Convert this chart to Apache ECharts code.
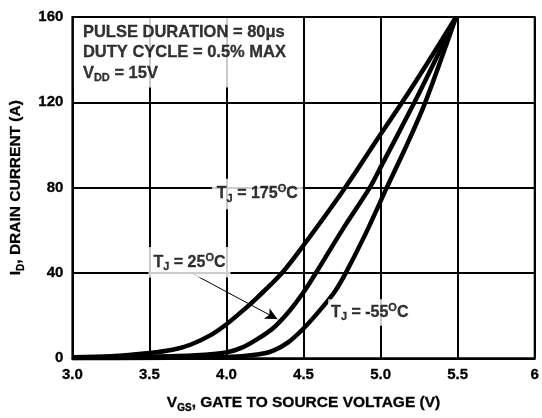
<!DOCTYPE html>
<html>
<head>
<meta charset="utf-8">
<script src="https://cdn.jsdelivr.net/npm/echarts@6/dist/echarts.min.js"></script>
<style>
html,body{margin:0;padding:0;background:#fff;}
#c{width:542px;height:418px;}
</style>
</head>
<body>
<div id="c"></div>
<script>
// Tick labels
const xTickLabels = ['3.0', '3.5', '4.0', '4.5', '5.0', '5.5', '6'];
const yTickLabels = ['0', '40', '80', '120', '160'];

// Gate voltage (V) / drain current (A) pairs
const tj175V = [3.0, 3.25, 3.5, 3.65, 3.77, 3.9, 4.0, 4.1, 4.2, 4.36, 4.5, 4.77, 5.0, 5.14, 5.3, 5.49];
const tj175I = [0.5, 1.0, 2.5, 4.0, 6.5, 11, 16, 22, 28.5, 40, 53, 80, 105, 120, 138, 160];

const tj25V = [3.0, 3.5, 3.8, 4.0, 4.1, 4.2, 4.3, 4.4, 4.5, 4.58, 4.75, 4.93, 5.0, 5.22, 5.35, 5.49];
const tj25I = [0.2, 0.8, 1.5, 2.8, 5.0, 9.0, 14, 21.5, 31, 40, 60, 80, 89.5, 120, 139, 160];

const tjm55V = [3.0, 3.5, 4.0, 4.2, 4.3, 4.4, 4.5, 4.6, 4.7, 4.77, 4.9, 5.04, 5.17, 5.29, 5.49];
const tjm55I = [0.0, 0.2, 0.6, 1.8, 3.5, 7.5, 14, 22, 31, 39.5, 58, 80, 100, 120, 160];

// Annotation anchor points (data coordinates)
const notePos = [3.0, 160];
const label175Pos = [4.2, 77];
const label25Pos = [3.76, 45];
const labelM55Pos = [4.93, 21.5];
const arrowFrom = [3.77, 40.1];
const arrowTo = [4.33, 18.4];

function pairs(xs, ys) { return xs.map((x, i) => [x, ys[i]]); }

const FONT = 'Liberation Sans, Arial, sans-serif';
const FS = 15;
function mkRich(fs) {
  const base = { fontFamily: FONT, fontWeight: 'bold', color: '#000', textBorderColor: '#000', textBorderWidth: 0.3 };
  return {
    b: Object.assign({}, base, { fontSize: fs, lineHeight: 20.5 }),
    sub: Object.assign({}, base, { fontSize: Math.round(fs * 0.66), lineHeight: 12, verticalAlign: 'bottom' }),
    sup: Object.assign({}, base, { fontSize: Math.round(fs * 0.66), lineHeight: 12, verticalAlign: 'top' })
  };
}
const richAxis = mkRich(15.5);
const richNote = mkRich(16.5);
const richTj = mkRich(16);

function tjLabel(temp) {
  return '{b|T}{sub|J}{b| = ' + temp + '}{sup|O}{b|C}';
}

const chart = echarts.init(document.getElementById('c'), null, { renderer: 'canvas' });

const curveStyle = { color: '#000', width: 4.5 };
const tickFont = { color: '#000', fontFamily: FONT, fontWeight: 'bold', fontSize: FS, textBorderColor: '#000', textBorderWidth: 0.3 };

chart.setOption({
  animation: false,
  backgroundColor: '#fff',
  grid: { left: 70, right: 5, top: 17, bottom: 54, show: true, borderColor: '#000', borderWidth: 2, backgroundColor: 'transparent' },
  xAxis: {
    type: 'value', min: 3, max: 6, interval: 0.5,
    axisLine: { show: true, lineStyle: { color: '#000', width: 2 } },
    axisTick: { show: false },
    splitLine: { show: true, lineStyle: { color: '#000', width: 2 } },
    axisLabel: Object.assign({ margin: 9, formatter: (v) => xTickLabels[Math.round((v - 3) / 0.5)] }, tickFont),
    name: '{b|V}{sub|GS}{b|, GATE TO SOURCE VOLTAGE (V)}',
    nameLocation: 'middle', nameGap: 34,
    nameTextStyle: { rich: richAxis }
  },
  yAxis: {
    type: 'value', min: 0, max: 160, interval: 40,
    axisLine: { show: true, lineStyle: { color: '#000', width: 2 } },
    axisTick: { show: false },
    splitLine: { show: true, lineStyle: { color: '#000', width: 2 } },
    axisLabel: Object.assign({ margin: 9, formatter: (v) => yTickLabels[Math.round(v / 40)] }, tickFont),
    name: '{b|I}{sub|D}{b|, DRAIN CURRENT (A)}',
    nameLocation: 'middle', nameGap: 46, nameRotate: 90,
    nameTextStyle: { rich: richAxis }
  },
  series: [
    { name: 'TJ=175', type: 'line', data: pairs(tj175V, tj175I), smooth: 0.3, showSymbol: false, lineStyle: curveStyle, z: 3 },
    { name: 'TJ=25', type: 'line', data: pairs(tj25V, tj25I), smooth: 0.3, showSymbol: false, lineStyle: curveStyle, z: 3,
      markLine: {
        silent: true, symbol: ['none', 'arrow'], symbolSize: [9, 12],
        lineStyle: { color: '#000', width: 1, type: 'solid' },
        label: { show: false },
        data: [[{ coord: arrowFrom }, { coord: arrowTo }]]
      }
    },
    { name: 'TJ=-55', type: 'line', data: pairs(tjm55V, tjm55I), smooth: 0.3, showSymbol: false, lineStyle: curveStyle, z: 3 },
    {
      name: 'notes', type: 'scatter', symbolSize: 0, silent: true, z: 5,
      data: [
        { value: notePos, label: { show: true, color: '#000', position: [1.5, 1], align: 'left', verticalAlign: 'top',
            backgroundColor: '#fff', padding: [4, 16, 4, 9],
            formatter: '{b|PULSE DURATION = 80μs}\n{b|DUTY CYCLE = 0.5% MAX}\n{b|V}{sub|DD}{b| = 15V}', rich: richNote } },
        { value: label175Pos, label: { show: true, color: '#000', position: 'inside', backgroundColor: '#fff', padding: [5, 5, 5, 5],
            formatter: tjLabel('175'), rich: richTj } },
        { value: label25Pos, label: { show: true, color: '#000', position: 'inside', backgroundColor: '#fff', padding: [5, 5, 5, 5],
            formatter: tjLabel('25'), rich: richTj } },
        { value: labelM55Pos, label: { show: true, color: '#000', position: 'inside', backgroundColor: '#fff', padding: [3, 3, 3, 3],
            formatter: tjLabel('-55'), rich: richTj } }
      ]
    }
  ]
});
</script>
</body>
</html>
